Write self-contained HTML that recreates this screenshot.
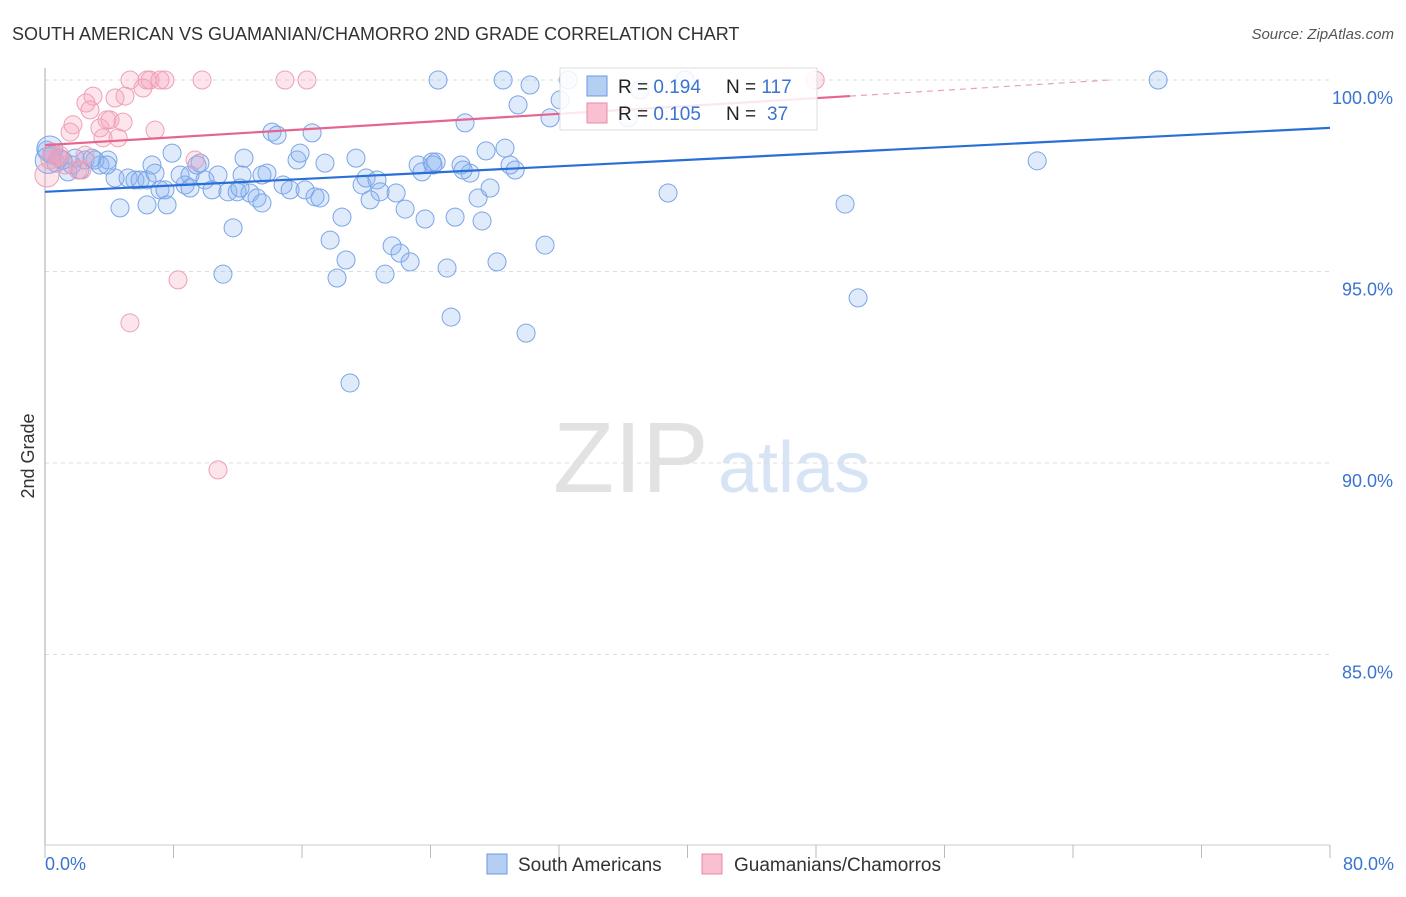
<!DOCTYPE html>
<html><head><meta charset="utf-8"><style>
body{margin:0;background:#fff;font-family:"Liberation Sans",sans-serif}
svg text{font-family:"Liberation Sans",sans-serif}
</style></head><body>
<svg id="c" width="1406" height="892">
<text x="12" y="40" font-size="18" fill="#333">SOUTH AMERICAN VS GUAMANIAN/CHAMORRO 2ND GRADE CORRELATION CHART</text>
<text x="1394" y="39" font-size="15" fill="#555" font-style="italic" text-anchor="end">Source: ZipAtlas.com</text>
<text x="34" y="456" font-size="18" fill="#333" transform="rotate(-90 34 456)" text-anchor="middle">2nd Grade</text>
<g><text x="553" y="492" font-size="100" font-family="Liberation Serif" fill="#e2e2e2">ZIP</text><text x="718" y="492" font-size="72" fill="#d6e4f5">atlas</text></g>
<g id="grid"></g><g id="marks"></g><g id="trend"></g>
<g>
<rect x="560" y="68" width="257" height="62" fill="rgba(255,255,255,0.85)" stroke="#ddd"/>
<rect x="587" y="76" width="20" height="20" fill="#b5cff2" stroke="#6a9ae0"/>
<rect x="587" y="103" width="20" height="20" fill="#f8c0d0" stroke="#e88aa8"/>
<text x="618" y="93" font-size="19" fill="#222">R = <tspan fill="#3a74d0">0.194</tspan><tspan x="726">N = </tspan><tspan fill="#3a74d0">117</tspan></text>
<text x="618" y="120" font-size="19" fill="#222">R = <tspan fill="#3a74d0">0.105</tspan><tspan x="726">N = </tspan><tspan x="767" fill="#3a74d0">37</tspan></text>
</g>
<g>
<rect x="487" y="854" width="20" height="20" fill="#b5cff2" stroke="#6a9ae0"/>
<text x="518" y="871" font-size="19" fill="#333">South Americans</text>
<rect x="702" y="854" width="20" height="20" fill="#f8c0d0" stroke="#e88aa8"/>
<text x="734" y="871" font-size="19" fill="#333">Guamanians/Chamorros</text>
</g>
</svg>
<script>
const blueX=[0.12,0.44,0.93,1.43,1.87,2.18,2.49,2.93,3.42,3.92,4.36,4.67,5.17,5.60,5.92,6.35,6.35,6.66,7.16,7.47,7.60,7.91,8.41,8.72,9.03,9.46,9.65,9.96,10.40,10.77,11.08,11.39,11.71,11.96,12.27,12.39,12.76,13.20,13.51,13.82,14.13,14.45,14.82,15.26,15.69,15.88,16.19,16.63,16.81,17.12,17.43,17.75,18.18,18.49,18.74,18.99,19.36,19.74,19.99,20.67,20.86,21.17,21.61,21.86,22.10,22.42,22.73,23.23,23.47,23.66,24.10,24.35,24.47,25.03,25.28,25.53,25.90,26.15,26.46,26.96,27.21,27.46,27.71,28.14,28.52,28.64,28.95,29.27,29.45,29.95,30.20,31.13,31.44,32.07,32.57,36.30,37.05,38.79,39.85,49.81,50.62,61.77,69.30,1.68,3.11,0.68,1.12,3.86,6.85,9.03,12.14,13.51,20.24,24.16,26.03,0.3,0.2];
const blueY=[98.17,98.04,97.96,97.60,97.96,97.65,97.91,97.96,97.78,97.91,97.44,96.66,97.44,97.39,97.39,97.39,96.74,97.78,97.13,97.13,96.74,98.09,97.52,97.26,97.52,97.78,97.83,97.39,97.13,97.52,94.93,97.08,96.14,97.08,97.52,97.96,97.05,96.92,96.79,97.57,98.64,98.56,97.26,97.13,97.91,98.09,97.13,98.62,96.95,96.92,97.83,95.82,94.83,96.42,95.30,92.09,97.96,97.26,97.44,97.39,97.08,94.93,95.67,97.05,95.48,96.63,95.25,97.78,97.60,96.37,97.86,97.86,100,95.09,93.81,96.42,97.78,98.88,97.57,96.92,96.32,98.15,97.18,95.25,100,98.22,97.78,97.65,99.35,93.39,99.87,95.69,99.01,99.48,100,99.01,99.74,97.05,100,96.76,94.31,97.89,100,97.78,97.91,97.83,97.91,97.78,97.57,97.18,97.18,97.52,96.87,97.78,97.65,98.2,97.9];
const pinkX=[0.12,0.44,0.81,1.25,1.56,1.74,2.05,2.30,2.55,2.80,2.99,3.42,3.61,3.86,4.05,4.36,4.55,4.86,4.98,5.29,5.29,6.10,6.35,6.54,6.85,7.16,7.47,8.28,9.34,9.78,10.77,14.94,16.31,47.95,0.93,0.31,2.49];
const pinkY=[97.52,98.12,97.99,97.78,98.64,98.83,97.65,97.65,99.40,99.22,99.58,98.75,98.49,98.96,98.96,99.53,98.49,98.90,99.58,100,93.66,99.79,100,100,98.69,100,100,94.78,97.91,100,89.82,100,100,100,98.04,97.91,98.04];
const yTicks=[100,95,90,85];
const yTickLabels=["100.0%","95.0%","90.0%","85.0%"];
const blueTrend=[[0,97.08],[80,98.75]];
const pinkTrend=[[0,98.30],[50.12,99.58]];
const pinkTrendDash=[[50.12,99.58],[66.3,100]];
const NS="http://www.w3.org/2000/svg";
const xs=v=>45+v/80*1285, ys=v=>80+(100-v)*38.3;
function mk(t,a,p){const e=document.createElementNS(NS,t);for(const k in a)e.setAttribute(k,a[k]);p.appendChild(e);return e;}
const g=document.getElementById('grid');
yTicks.forEach((t,i)=>{const l=mk('line',{x1:45,x2:1330,y1:ys(t),y2:ys(t),stroke:'#ddd','stroke-dasharray':'4,4'},g);


const tx=mk('text',{x:1393,y:ys(t)+24,'font-size':18,fill:'#3a74d0','text-anchor':'end'},g);tx.textContent=yTickLabels[i];

});
mk('line',{x1:45,x2:45,y1:68,y2:845,stroke:'#aaa'},g);
mk('line',{x1:45,x2:1330,y1:845,y2:845,stroke:'#ccc'},g);
for(let v=0;v<=80;v+=8){const l=mk('line',{x1:xs(v),x2:xs(v),y1:845,y2:858,stroke:'#bbb'},g);

}
[[0,'0.0%','start',45],[80,'80.0%','end',1394]].forEach(d=>{const t=mk('text',{x:d[3],y:870,'font-size':18,fill:'#3a74d0','text-anchor':d[2]},g);t.textContent=d[1];

});
const m=document.getElementById('marks');
blueX.forEach((x,i)=>{const c=mk('circle',{cx:xs(x),cy:ys(blueY[i]),r:i>=115?13:9,fill:'rgba(140,180,240,0.28)',stroke:'#7aa6e6','stroke-width':1},m);

});
pinkX.forEach((x,i)=>{const c=mk('circle',{cx:xs(x),cy:ys(pinkY[i]),r:i==0?12:9,fill:'rgba(248,160,185,0.28)',stroke:'#eda0b8','stroke-width':1},m);

});
const tr=document.getElementById('trend');
const b=mk('line',{x1:xs(blueTrend[0][0]),y1:ys(blueTrend[0][1]),x2:xs(blueTrend[1][0]),y2:ys(blueTrend[1][1]),stroke:'#2a6fd6','stroke-width':2.2},tr);


const p=mk('line',{x1:xs(pinkTrend[0][0]),y1:ys(pinkTrend[0][1]),x2:xs(pinkTrend[1][0]),y2:ys(pinkTrend[1][1]),stroke:'#e5658f','stroke-width':2.2},tr);


const pd=mk('line',{x1:xs(pinkTrendDash[0][0]),y1:ys(pinkTrendDash[0][1]),x2:xs(pinkTrendDash[1][0]),y2:ys(pinkTrendDash[1][1]),stroke:'#e8a0b8','stroke-width':1.2,'stroke-dasharray':'6,5'},tr);


</script>
</body></html>
